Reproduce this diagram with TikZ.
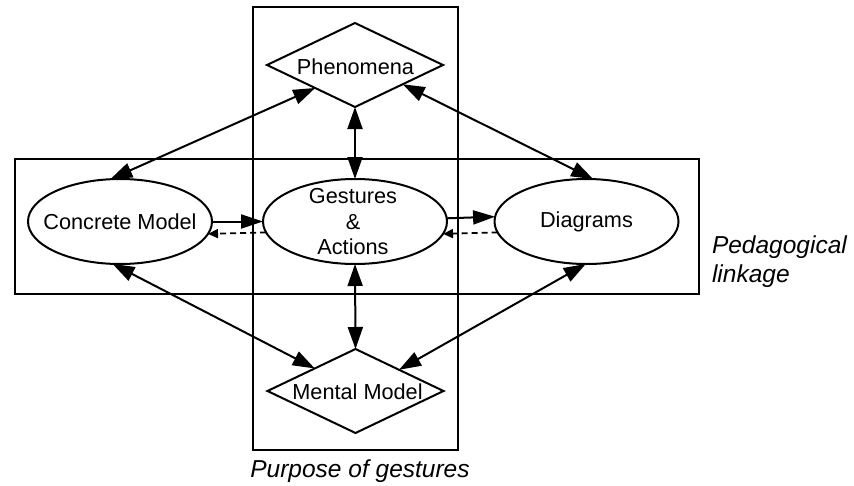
\documentclass[tikz,border=0pt]{standalone}
\usepackage{fontspec}
\setmainfont{Liberation Sans}
\usetikzlibrary{shapes.geometric,arrows.meta}
\begin{document}
\begin{tikzpicture}[x=1pt,y=-1pt,
 every node/.style={outer sep=0pt, inner sep=0pt},
 frame/.style={draw, line width=2pt, rectangle},
 ell/.style={ellipse, draw, fill=white, line width=2pt, minimum width=184pt, minimum height=85pt},
 dia/.style={diamond, draw, fill=white, line width=2pt, minimum width=176pt, minimum height=84pt},
 txt/.style={font=\fontsize{21.7}{25.5}\selectfont, align=center},
 captext/.style={font=\fontsize{24.5}{29}\selectfont\itshape},
 link/.style={line width=2pt, {Triangle[length=22pt,width=15pt]}-{Triangle[length=22pt,width=15pt]}},
 fwd/.style={line width=2pt, -{Triangle[length=22pt,width=14pt]}},
 back/.style={line width=1.8pt, dash pattern=on 6pt off 4pt, -{Triangle[length=10pt,width=9pt]}}
]
\useasboundingbox (0,0) rectangle (854,485);
% frames
\node[frame, minimum width=205pt, minimum height=443pt] (pg) at (355.5,228.5) {};
\node[frame, minimum width=684pt, minimum height=135pt] (pl) at (357,226.5) {};
% nodes
\node[dia] (ph) at (355,65) {};
\node[txt] (pht) at (355.5,67) {Phenomena};
\node[dia] (mm) at (355.5,391) {};
\node[txt] (mmt) at (357.5,392) {Mental Model};
\node[ell] (cm) at (120,221.5) {};
\node[txt] (cmt) at (120,221.5) {Concrete Model};
\node[ell] (ga) at (355,221.5) {};
\node[txt] (gat) at (353,222) {Gestures\\\&\\Actions};
\node[ell] (dg) at (586.5,221.5) {};
\node[txt] (dgt) at (586.5,221.5) {Diagrams};
% labels
\node[captext, anchor=base west] (lab1) at (712,253) {Pedagogical};
\node[captext, anchor=base west] (lab2) at (712,282) {linkage};
\node[captext, anchor=base] (lab3) at (360,477) {Purpose of gestures};
% connectors
\draw[link] (ph.south) -- (ga.north);
\draw[link] (ga.south) -- (mm.north);
\draw[link] (ph.210) -- (cm.103.5);
\draw[link] (ph.338) -- (dg.81);
\draw[link] (cm.260) -- (mm.151);
\draw[link] (dg.269) -- (mm.26);
\draw[fwd] (cm.east) -- (ga.west);
\draw[back] (ga.187.4) -- (cm.352.6);
\draw[fwd] (ga.2.2) -- (dg.177.8);
\draw[back] (dg.187.4) -- (ga.352.6);
\end{tikzpicture}
\end{document}
